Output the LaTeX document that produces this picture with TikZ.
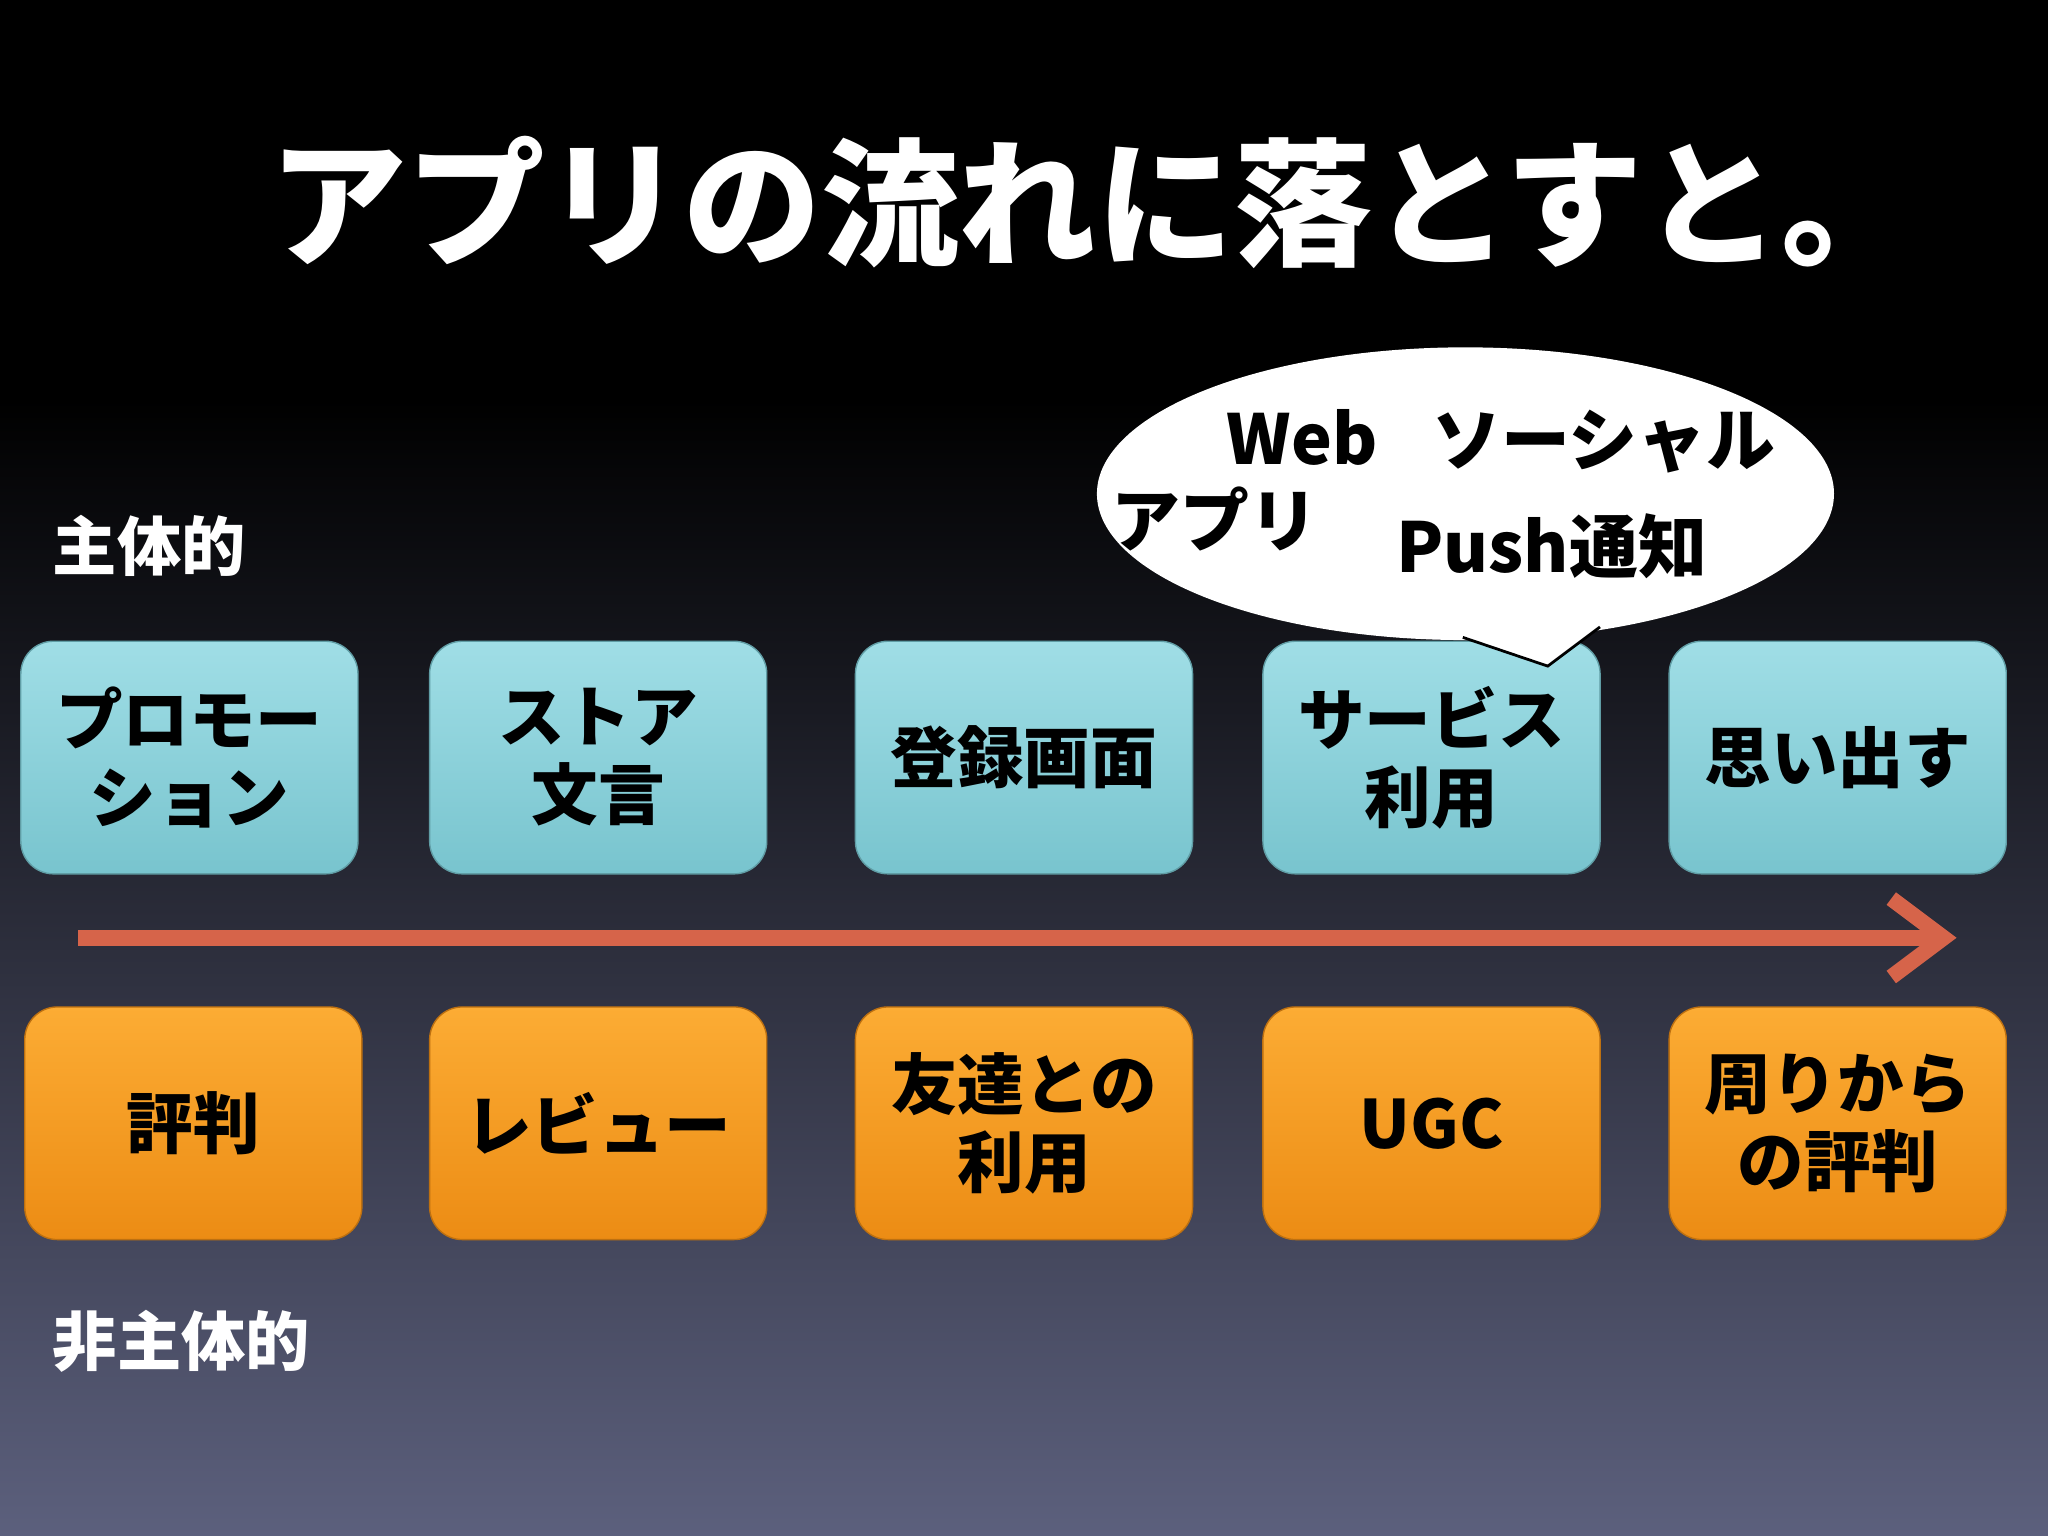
\documentclass[tikz,border=0pt]{standalone}
\usepackage{fontspec}
\setmainfont{Noto Sans CJK JP}
\usetikzlibrary{arrows.meta,shapes.geometric}
\definecolor{bgbot}{RGB}{92,96,125}
\definecolor{cyanA}{RGB}{160,222,230}
\definecolor{cyanB}{RGB}{120,196,206}
\definecolor{orA}{RGB}{252,172,52}
\definecolor{orB}{RGB}{236,140,20}
\definecolor{arr}{RGB}{214,100,74}
\pgfdeclareverticalshading{bgsh}{100bp}{color(0bp)=(bgbot); color(25bp)=(bgbot); color(62bp)=(black); color(100bp)=(black)}
\tikzset{
 cbox/.style={rounded corners=0.25cm, minimum width=2.58cm, minimum height=1.78cm, top color=cyanA, bottom color=cyanB, draw=cyanB!80!black, line width=0.3pt, align=center, font=\fontsize{14.5}{17}\selectfont\bfseries, text=black, inner sep=0pt},
 obox/.style={cbox, top color=orA, bottom color=orB, draw=orB!80!black},
 lab/.style={text=white, font=\fontsize{14}{16}\selectfont\bfseries, anchor=west},
 btxt/.style={font=\fontsize{15}{17}\selectfont\bfseries, text=black}
}
\begin{document}
\begin{tikzpicture}[x=0.01cm,y=-0.01cm]
\useasboundingbox (0,0) rectangle (1568,1176);
\shade[shading=bgsh] (0,0) rectangle (1568,1176);
\node[text=white, font=\fontsize{30}{33}\selectfont\bfseries] (title) at (838,155) {アプリの流れに落とすと。};
\node[lab] (l1) at (28,418) {主体的};
\node[lab] (l2) at (28,1027) {非主体的};
\node[cbox] (c1) at (145,580) {プロモー\\ション};
\node[cbox] (c2) at (458,580) {ストア\\文言};
\node[cbox] (c3) at (784,580) {登録画面};
\node[cbox] (c4) at (1096,580) {サービス\\利用};
\node[cbox] (c5) at (1407,580) {思い出す};
\node[obox] (o1) at (148,860) {評判};
\node[obox] (o2) at (458,860) {レビュー};
\node[obox] (o3) at (784,860) {友達との\\利用};
\node[obox] (o4) at (1096,860) {UGC};
\node[obox] (o5) at (1407,860) {周りから\\の評判};
\coordinate (as) at (60,718);
\coordinate (ae) at (1498,718);
\draw[arr, line width=3.4pt, -{Straight Barb[length=0.4cm,width=0.6cm,line width=3.4pt]}] (as) -- (ae);
\fill[white] (1120,488) -- (1185,510) -- (1225,480) -- cycle;
\node[ellipse, fill=white, minimum width=5.64cm, minimum height=2.24cm, inner sep=0pt] (bub) at (1122,378) {};
\draw[black, line width=0.6pt] (1120,488) -- (1185,510) -- (1225,480);
\node[btxt] (t1) at (997,335) {Web};
\node[btxt] (t2) at (1228,338) {ソーシャル};
\node[btxt] (t3) at (930,397) {アプリ};
\node[btxt] (t4) at (1188,418) {Push通知};
\end{tikzpicture}
\end{document}
